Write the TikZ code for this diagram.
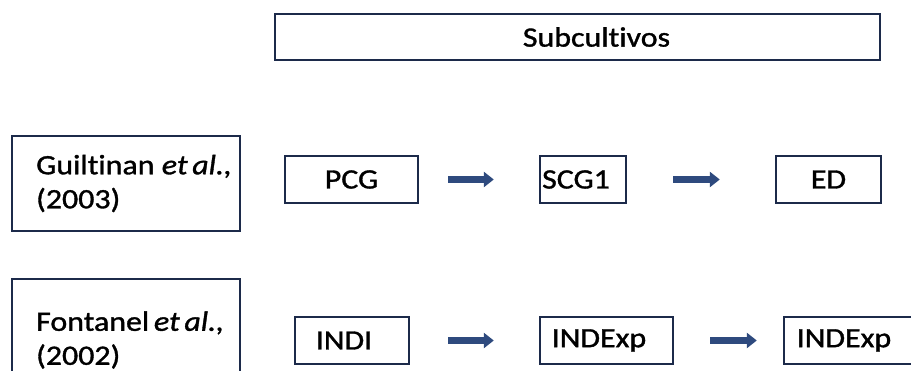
\documentclass[tikz,border=0pt]{standalone}
\usepackage{fontspec}
\setmainfont{Carlito}[Ligatures=NoCommon, FakeStretch=1.14, FakeBold=1.2]
\usetikzlibrary{arrows.meta}

\definecolor{navy}{HTML}{1C2A4A}
\definecolor{arrowblue}{HTML}{2E4A7E}
\tikzset{
  caixa/.style={draw=navy, line width=1.2pt, minimum height=23.5pt, inner sep=0pt,
    font=\fontsize{14}{17}\selectfont},
  texto/.style={anchor=west, align=left, inner sep=0pt, font=\fontsize{14}{17}\selectfont},
  seta/.style={-{Triangle[length=5pt,width=7.5pt]}, line width=3.2pt, draw=arrowblue},
}

\begin{document}
\begin{tikzpicture}[x=0.5pt, y=-0.5pt]
  \clip (0,0) rectangle (911,370);
  \fill[white] (0,0) rectangle (911,370);

  \node[caixa, minimum width=302.5pt, minimum height=23pt] (subcultivos) at (577.5,37) {\hspace*{19pt}Subcultivos};

  % autores
  \node[caixa, minimum width=114pt, minimum height=47.5pt] (guiltinan) at (126,183.5) {};
  \node[texto] (guiltinantxt) at ([xshift=12.5pt]guiltinan.west) {Guiltinan \textit{et\,al.,}\\(2003)};
  \node[caixa, minimum width=114pt, minimum height=61pt] (fontanel) at (126,340) {};
  \node[texto] (fontaneltxt) at ([xshift=12.5pt]fontanel.west) {Fontanel\,\textit{et\,al.,}\\(2002)};

  % linha 1
  \node[caixa, minimum width=66.5pt] (pcg)  at (351.5,179.5) {PCG};
  \node[caixa, minimum width=43pt]   (scg1) at (583,179.5) {SCG1\hspace*{7pt}};
  \node[caixa, minimum width=52.5pt] (ed)   at (828.5,179.5) {ED};

  % linha 2
  \node[caixa, minimum width=57pt]   (indi)     at (352,340.5) {INDI\hspace*{8pt}};
  \node[caixa, minimum width=66.5pt] (indexp)   at (606.5,340.5) {INDExp\hspace*{7.5pt}};
  \node[caixa, minimum width=66.5pt] (indexpb)  at (850.5,340.5) {INDExp\hspace*{6.5pt}};

  \draw[seta, shorten <=14.5pt, shorten >=22.5pt] (pcg) -- (scg1);
  \draw[seta, shorten <=23pt, shorten >=27.5pt] (scg1) -- (ed);
  \draw[seta, shorten <=19pt, shorten >=22.5pt] (indi) -- (indexp);
  \draw[seta, shorten <=18pt, shorten >=13pt] (indexp) -- (indexpb);
\end{tikzpicture}
\end{document}
